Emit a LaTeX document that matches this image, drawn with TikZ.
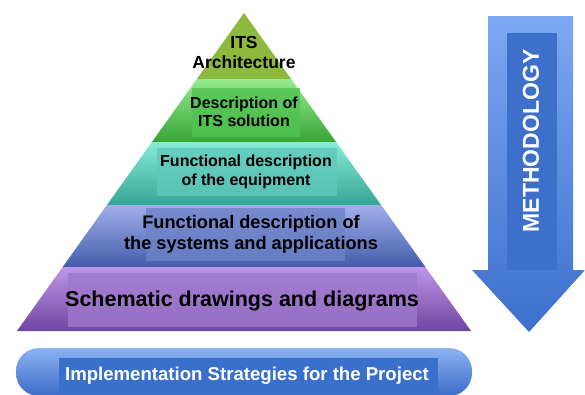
\documentclass[tikz,border=0pt]{standalone}
\usepackage{fontspec}
\setmainfont{Liberation Sans}
\usetikzlibrary{calc}
\definecolor{olivec}{HTML}{8DBA3E}
\definecolor{greentop}{RGB}{150,235,140}
\definecolor{greenbot}{RGB}{55,165,55}
\definecolor{tealtop}{RGB}{135,235,215}
\definecolor{tealbot}{RGB}{55,165,148}
\definecolor{bluetop}{RGB}{160,175,235}
\definecolor{bluebot}{RGB}{68,92,170}
\definecolor{purtop}{RGB}{190,150,232}
\definecolor{purbot}{RGB}{112,68,160}
\definecolor{greenbox}{RGB}{80,195,80}
\definecolor{tealbox}{RGB}{95,200,185}
\definecolor{bluebox}{RGB}{110,130,200}
\definecolor{purbox}{RGB}{158,120,205}
\definecolor{pilltop}{RGB}{140,178,240}
\definecolor{pillbot}{RGB}{60,108,200}
\definecolor{pillbox}{RGB}{58,111,202}
\definecolor{arrtop}{RGB}{125,168,242}
\definecolor{arrbot}{RGB}{60,112,205}
\definecolor{arrbox}{RGB}{60,112,202}
\tikzset{
  lbl/.style={text=black, align=center, inner sep=0pt},
  wlbl/.style={text=white, align=center, inner sep=0pt}
}
\begin{document}
\begin{tikzpicture}[x=1pt,y=-1pt]
\useasboundingbox (0,0) rectangle (585,394);
\def\sl{0.714}
% top triangle
\fill[olivec] (244,13) -- ({244-\sl*66},79) -- ({244+\sl*66},79) -- cycle;
% green layer
\shade[top color=greentop, bottom color=greenbot]
  ({244-\sl*66},79) -- ({244+\sl*66},79) -- ({244+\sl*129},142) -- ({244-\sl*129},142) -- cycle;
% teal layer
\shade[top color=tealtop, bottom color=tealbot]
  ({244-\sl*129},142) -- ({244+\sl*129},142) -- ({244+\sl*192},205) -- ({244-\sl*192},205) -- cycle;
% blue layer
\shade[top color=bluetop, bottom color=bluebot]
  ({244-\sl*192},205) -- ({244+\sl*192},205) -- ({244+\sl*254},267) -- ({244-\sl*254},267) -- cycle;
% purple layer
\shade[top color=purtop, bottom color=purbot]
  ({244-\sl*254},267) -- ({244+\sl*254},267) -- ({244+\sl*318},331) -- ({244-\sl*318},331) -- cycle;
% text background boxes
\fill[greenbox, opacity=0.8] (192,88) rectangle (300,137);
\fill[tealbox, opacity=0.8] (157,148) rectangle (337,196);
\fill[bluebox, opacity=0.8] (146,208) rectangle (345,261);
\fill[purbox, opacity=0.8] (68,273) rectangle (417,327);
% labels
\node[lbl, font=\bfseries\fontsize{17.5}{20}\selectfont] (l1) at (244,52) {ITS\\Architecture};
\node[lbl, font=\bfseries\fontsize{16}{18.5}\selectfont] (l2) at (244,112) {Description of\\ITS solution};
\node[lbl, font=\bfseries\fontsize{16}{19}\selectfont] (l3) at (246,172) {Functional description\\of the equipment};
\node[lbl, font=\bfseries\fontsize{18.2}{21}\selectfont] (l4) at (251,234) {Functional description of\\the systems and applications};
\node[lbl, font=\bfseries\fontsize{21.5}{24}\selectfont] (l5) at (242,301) {Schematic drawings and diagrams};
% bottom pill
\shade[top color=pilltop, bottom color=pillbot, rounded corners=23pt]
  (16,348) rectangle (472,396);
\fill[pillbox] (59,358) rectangle (438,394);
\node[wlbl, font=\bfseries\fontsize{18.6}{20}\selectfont] (imp) at (247,376) {Implementation Strategies for the Project};
% methodology arrow
\shade[top color=arrtop, bottom color=arrbot]
  (488,16) -- (573,16) -- (573,270) -- (585,270) -- (529,332) -- (472,270) -- (488,270) -- cycle;
\fill[arrbox] (507,33) rectangle (557,270);
\node[wlbl, rotate=90, font=\bfseries\fontsize{23}{25}\selectfont] (meth) at (531,141) {METHODOLOGY};
\end{tikzpicture}
\end{document}
